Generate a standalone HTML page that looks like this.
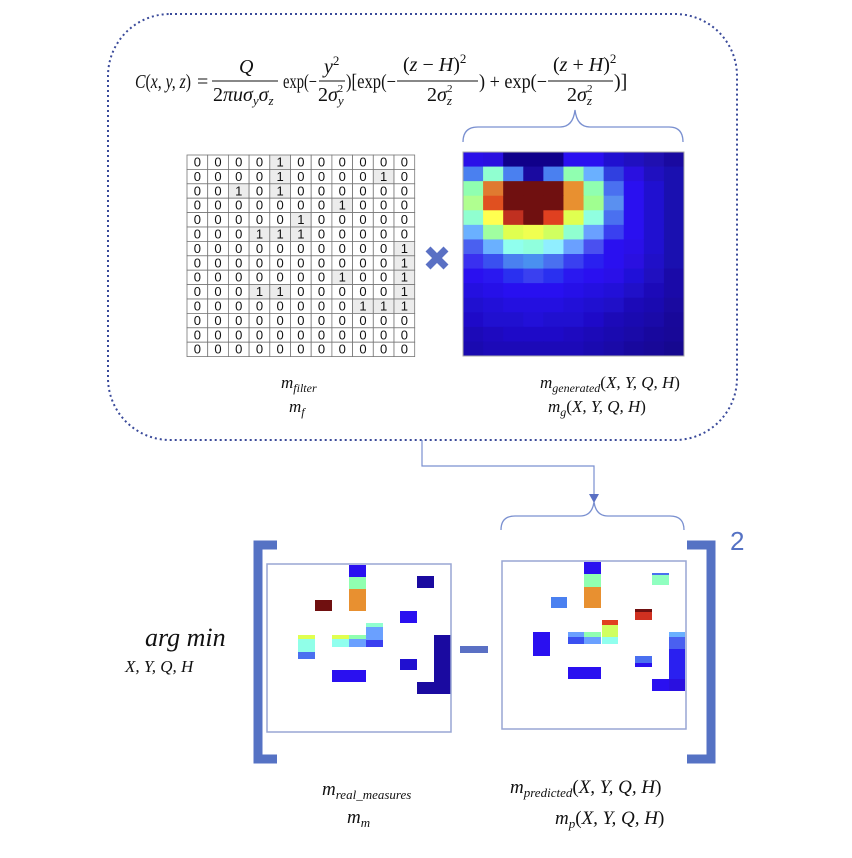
<!DOCTYPE html>
<html><head><meta charset="utf-8"><style>
html,body{margin:0;padding:0;background:#fff;}
svg{display:block;}
text{font-family:"Liberation Serif",serif;fill:#111;}
.i{font-style:italic;}
</style></head><body>
<svg width="852" height="858" viewBox="0 0 852 858" xmlns="http://www.w3.org/2000/svg">
<rect x="108" y="14" width="629" height="426" rx="62" ry="62" fill="none" stroke="#3a4a9a" stroke-width="2" stroke-dasharray="2,3"/>

<g font-size="20">
<text x="135" y="88" textLength="56" lengthAdjust="spacingAndGlyphs"><tspan class="i">C</tspan>(<tspan class="i">x, y, z</tspan>)</text>
<text x="197" y="88">=</text>
<text x="239" y="73" class="i">Q</text>
<line x1="212" y1="81" x2="278" y2="81" stroke="#111" stroke-width="1"/>
<text x="213" y="101">2<tspan class="i">πuσ</tspan><tspan class="i" font-size="13" dy="4">y</tspan><tspan class="i" dy="-4">σ</tspan><tspan class="i" font-size="13" dy="4">z</tspan></text>
<text x="283" y="88" textLength="34" lengthAdjust="spacingAndGlyphs">exp(−</text>
<text x="324" y="73" class="i">y<tspan font-size="13" dy="-8" font-style="normal">2</tspan></text>
<line x1="319" y1="81" x2="345" y2="81" stroke="#111" stroke-width="1"/>
<text x="318" y="101">2<tspan class="i">σ</tspan><tspan font-size="13" dy="4" class="i">y</tspan><tspan font-size="11" dx="-6" dy="-13">2</tspan></text>
<text x="346" y="88" textLength="50" lengthAdjust="spacingAndGlyphs">)[exp(−</text>
<text x="403" y="71">(<tspan class="i">z</tspan> − <tspan class="i">H</tspan>)<tspan font-size="13" dy="-8">2</tspan></text>
<line x1="397" y1="81" x2="478" y2="81" stroke="#111" stroke-width="1"/>
<text x="427" y="101">2<tspan class="i">σ</tspan><tspan font-size="13" dy="4" class="i">z</tspan><tspan font-size="11" dx="-5" dy="-13">2</tspan></text>
<text x="479" y="88" textLength="68" lengthAdjust="spacingAndGlyphs">) + exp(−</text>
<text x="553" y="71">(<tspan class="i">z</tspan> + <tspan class="i">H</tspan>)<tspan font-size="13" dy="-8">2</tspan></text>
<line x1="548" y1="81" x2="613" y2="81" stroke="#111" stroke-width="1"/>
<text x="567" y="101">2<tspan class="i">σ</tspan><tspan font-size="13" dy="4" class="i">z</tspan><tspan font-size="11" dx="-5" dy="-13">2</tspan></text>
<text x="614" y="88">)]</text>
</g>

<path d="M463,142 Q463,127 478,127 L560,127 Q573,127 575,110 Q577,127 590,127 L669,127 Q683,127 683,142" fill="none" stroke="#7a90d0" stroke-width="1.3"/>

<g id="mat"></g>

<g stroke="#5a70c4" stroke-width="7" stroke-linecap="butt">
<line x1="428" y1="249" x2="446" y2="267"/><line x1="446" y1="249" x2="428" y2="267"/>
</g>

<g id="heat"></g>
<rect x="463" y="152" width="221" height="204" fill="none" stroke="#aaa" stroke-width="1"/>

<g font-size="17" class="i">
<text x="281" y="388" class="i">m<tspan font-size="12" dy="4">filter</tspan></text>
<text x="289" y="412" class="i">m<tspan font-size="12" dy="4">f</tspan></text>
<text x="540" y="388" class="i">m<tspan font-size="12" dy="4">generated</tspan><tspan dy="-4" font-style="normal">(</tspan>X, Y, Q, H<tspan font-style="normal">)</tspan></text>
<text x="548" y="412" class="i">m<tspan font-size="12" dy="4">g</tspan><tspan dy="-4" font-style="normal">(</tspan>X, Y, Q, H<tspan font-style="normal">)</tspan></text>
</g>

<path d="M422,440 L422,466 L594,466 L594,496" fill="none" stroke="#7a90d0" stroke-width="1.2"/>
<polygon points="589,494 599,494 594,503" fill="#5a70c4"/>

<path d="M501,530 Q501,516 515,516 L580,516 Q592,516 594,502 Q596,516 608,516 L670,516 Q684,516 684,530" fill="none" stroke="#7a90d0" stroke-width="1.3"/>

<path d="M277,545 L258,545 L258,759 L277,759" fill="none" stroke="#5572c4" stroke-width="9"/>
<path d="M687,545 L711,545 L711,759 L687,759" fill="none" stroke="#5572c4" stroke-width="9"/>
<text x="730" y="550" font-size="26" style="fill:#5572c4;font-family:'Liberation Sans',sans-serif">2</text>

<g id="cells"></g>
<rect x="267" y="564" width="184" height="168" fill="none" stroke="#98a6d4" stroke-width="1.5"/>
<rect x="502" y="561" width="184" height="168" fill="none" stroke="#98a6d4" stroke-width="1.5"/>
<rect x="460" y="646" width="28" height="7" fill="#5a70c4"/>

<text x="145" y="646" font-size="26" class="i">arg min</text>
<text x="125" y="672" font-size="17" class="i">X, Y, Q, H</text>

<g font-size="19">
<text x="322" y="795" class="i">m<tspan font-size="13" dy="4">real_measures</tspan></text>
<text x="347" y="823" class="i">m<tspan font-size="13" dy="4">m</tspan></text>
<text x="510" y="793" class="i">m<tspan font-size="13" dy="4">predicted</tspan><tspan dy="-4" font-style="normal">(</tspan>X, Y, Q, H<tspan font-style="normal">)</tspan></text>
<text x="555" y="824" class="i">m<tspan font-size="13" dy="4">p</tspan><tspan dy="-4" font-style="normal">(</tspan>X, Y, Q, H<tspan font-style="normal">)</tspan></text>
</g>
</svg>
<script>
var NS="http://www.w3.org/2000/svg";
function el(p,t,a,txt){var e=document.createElementNS(NS,t);for(var k in a)e.setAttribute(k,a[k]);if(txt!==undefined)e.textContent=txt;p.appendChild(e);return e;}
var M=["00001000000","00001000010","00101000000","00000001000","00000100000","00011100000","00000000001","00000000001","00000001001","00011000001","00000000111","00000000000","00000000000","00000000000"];
var g=document.getElementById("mat");var x0=187,y0=155,cw=20.7,ch=14.4;
for(var r=0;r<14;r++)for(var c=0;c<11;c++){var v=M[r][c];
el(g,"rect",{x:x0+c*cw,y:y0+r*ch,width:cw,height:ch,fill:v=="1"?"#ececec":"#fff",stroke:"#777","stroke-width":0.8});
el(g,"text",{x:x0+c*cw+cw/2,y:y0+r*ch+11.5,"text-anchor":"middle","font-size":"13",style:"font-family:'Liberation Sans',sans-serif"},v);}
var H=[
["#2a10e8","#2a10e0","#10008a","#10008a","#10008a","#2a10f0","#2a10f0","#2010d0","#2010c0","#2010b0","#1a0aa0"],
["#4a80f0","#90ffd0","#4a80f0","#1a0aa0","#4a80f0","#90ffb0","#6ab0ff","#3040e0","#2a10e0","#2010c0","#1a10b0"],
["#90ffb0","#e07a30","#701010","#701010","#701010","#e89030","#90ffb0","#4a70f0","#2a10f0","#2010d0","#1a10b0"],
["#b0ff90","#e05020","#701010","#701010","#701010","#e89030","#a0ff90","#5a90f0","#2a10f0","#2010d0","#1a10b0"],
["#90ffd0","#ffff50","#c03020","#701010","#e04020","#e0ff50","#90ffe0","#4a70f0","#2a10f0","#2010d0","#1a10b0"],
["#6ab0ff","#a0ffa0","#e0ff50","#f0ff50","#d0ff60","#90ffd0","#6aa0ff","#3a40f0","#2a10f0","#2010d0","#1a10b0"],
["#4a60f0","#6ab0ff","#90ffee","#90ffdd","#90eeff","#6aa0ff","#4a50f0","#2a10f0","#2a10e8","#2010d0","#1a10b0"],
["#3a30f0","#3a50f0","#4a80f0","#4a90f0","#4a70f0","#3a40f0","#2a20f0","#2a10f0","#2a10e0","#2010c8","#1a10b0"],
["#2a10f0","#2a18f0","#2a30f0","#3a40f0","#2a30f0","#2a18f0","#2a10f0","#2a10e8","#2010d8","#2010c0","#1a0aa8"],
["#2410e0","#2610e8","#2810f0","#2810f0","#2810f0","#2610e8","#2410e0","#2210d8","#2010c8","#1c0ab8","#1a0aa8"],
["#2010d0","#2210d8","#2410e0","#2410e0","#2410e0","#2210d8","#2010d0","#2010c8","#1c0ab8","#1a0ab0","#1a0aa0"],
["#1e0ac8","#2010d0","#2010d0","#2210d8","#2010d0","#2010d0","#1e0ac8","#1c0ab8","#1a0ab0","#1a0aa8","#18089a"],
["#1c0ab8","#1e0ac0","#1e0ac8","#1e0ac8","#1e0ac8","#1e0ac0","#1c0ab8","#1a0ab0","#1a0aa8","#18089e","#180898"],
["#1a0ab0","#1c0ab8","#1c0ab8","#1c0ab8","#1c0ab8","#1c0ab8","#1a0ab0","#1a0aa8","#18089e","#180898","#160890"]];
var h=document.getElementById("heat");var hx=463,hy=152,hw=221/11,hh=204/14;
for(var r=0;r<14;r++)for(var c=0;c<11;c++)el(h,"rect",{x:hx+c*hw,y:hy+r*hh,width:hw+0.5,height:hh+0.5,fill:H[r][c]});
var C=[
[349,565,17,12,"#2a10f0"],[349,577,17,12,"#90ffb0"],[349,589,17,22,"#e89030"],[417,576,17,12,"#1a0aa0"],[315,600,17,11,"#701010"],[400,611,17,12,"#2a10f0"],
[298,635,17,4,"#e0ff50"],[298,639,17,13,"#90ffe8"],[298,652,17,7,"#4a70f0"],[332,635,17,4,"#e0ff50"],[332,639,17,8,"#90ffee"],[349,635,17,4,"#90ffb0"],[349,639,17,8,"#6aa0ff"],
[366,623,17,4,"#90ffd0"],[366,627,17,13,"#6aa0ff"],[366,640,17,7,"#3a40f0"],[400,659,17,11,"#2010d0"],[332,670,34,12,"#2a10f0"],[434,635,17,59,"#1a0aa0"],[417,682,17,12,"#1a0aa0"],
[584,562,17,12,"#2a10f0"],[584,574,17,13,"#90ffb0"],[584,587,17,21,"#e89030"],[652,573,17,12,"#90ffc0"],[652,573,17,2,"#4a70f0"],[551,597,16,11,"#4a80f0"],
[635,609,17,11,"#d03020"],[635,609,17,3,"#701010"],[602,620,16,5,"#e04020"],[602,625,16,12,"#d0ff60"],[602,637,16,7,"#90ffee"],
[568,632,16,5,"#6aa0ff"],[568,637,16,7,"#3a50f0"],[584,632,17,5,"#90ffb0"],[584,637,17,7,"#6aa0ff"],[533,632,17,24,"#2a10f0"],
[635,656,17,7,"#4a70f0"],[635,663,17,4,"#2a10f0"],[568,667,33,12,"#2a10f0"],
[669,632,16,5,"#6ab0ff"],[669,637,16,12,"#4a60f0"],[669,649,16,30,"#2a20f0"],[669,679,16,12,"#2a10e0"],[652,679,17,12,"#2a10f0"]];
var cg=document.getElementById("cells");
C.forEach(function(a){el(cg,"rect",{x:a[0],y:a[1],width:a[2],height:a[3],fill:a[4]});});
</script>
</body></html>
